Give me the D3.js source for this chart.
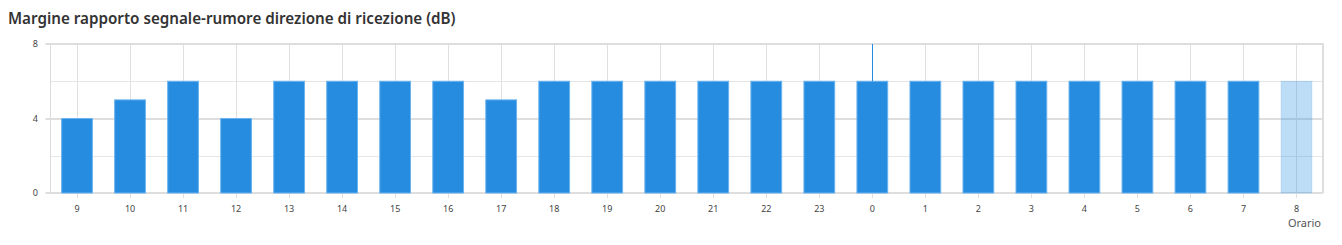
<!DOCTYPE html>
<html>
<head>
<meta charset="utf-8">
<script src="https://cdn.jsdelivr.net/npm/d3@7"></script>
<style>
  body { margin: 0; background: #fff; }
  svg { display: block; }
</style>
</head>
<body>
<svg id="chart" width="1342" height="245"></svg>
<script>
//chart data
var hours = ["9","10","11","12","13","14","15","16","17","18","19","20","21","22","23","0","1","2","3","4","5","6","7","8"];
var margins = [4,5,6,4,6,6,6,6,5,6,6,6,6,6,6,6,6,6,6,6,6,6,6,6];
var lightHours = ["8"];        //last hour is still running, drawn pale
var cursorHour = "0";          //hover cursor line
var yMajor = [0,4,8];
var yMinor = [2,6];

var svg = d3.select("#chart");
//plot box (note: "top" is taken by window.top, so use other names)
var plotL = 50.5, plotR = 1323, plotT = 44, plotB = 193;

var x = d3.scaleBand().domain(hours).range([plotL, plotR]).paddingInner(0.42).paddingOuter(0.21);
var xc = function(h){ return x(h) + x.bandwidth()/2; };
var y = d3.scaleLinear().domain([0,8]).range([plotB, plotT]);

//title
svg.append("text")
   .attr("x", 8).attr("y", 24)
   .style("font-family", "'Noto Sans', sans-serif")
   .style("font-weight", 600)
   .style("font-size", "15.2px")
   .style("fill", "#333")
   .text("Margine rapporto segnale-rumore direzione di ricezione (dB)");

var grid = svg.append("g");

//minor horizontal lines
grid.selectAll(".minor").data(yMinor).enter().append("line")
    .attr("x1", plotL).attr("x2", plotR)
    .attr("y1", function(d){ return Math.round(y(d)) + 0.5; })
    .attr("y2", function(d){ return Math.round(y(d)) + 0.5; })
    .style("stroke", "#e6e6e6");

//vertical lines at each hour, with tick below the axis
grid.selectAll(".vl").data(hours).enter().append("line")
    .attr("x1", function(d){ return Math.round(xc(d)) + 0.5; })
    .attr("x2", function(d){ return Math.round(xc(d)) + 0.5; })
    .attr("y1", plotT).attr("y2", plotB + 5)
    .style("stroke", "#e0e0e0");

//left edge
grid.append("line")
    .attr("x1", plotL).attr("x2", plotL)
    .attr("y1", plotT).attr("y2", plotB)
    .style("stroke", "#dcdcdc");

//major horizontal lines, sticking out a little on the left
grid.selectAll(".major").data(yMajor).enter().append("line")
    .attr("x1", plotL - 5).attr("x2", plotR)
    .attr("y1", function(d){ return Math.round(y(d)); })
    .attr("y2", function(d){ return Math.round(y(d)); })
    .style("stroke", "#dedede")
    .style("stroke-width", 2);

//right edge
grid.append("line")
    .attr("x1", plotR).attr("x2", plotR)
    .attr("y1", plotT - 1).attr("y2", plotB)
    .style("stroke", "#dedede")
    .style("stroke-width", 2);

//bars
svg.append("g").selectAll("rect")
   .data(hours)
   .enter().append("rect")
   .attr("x", function(d){ return x(d); })
   .attr("width", x.bandwidth())
   .attr("y", function(d, i){ return y(margins[i]); })
   .attr("height", function(d, i){ return y(0) - y(margins[i]); })
   .style("fill", function(d){ return lightHours.indexOf(d) >= 0 ? "rgba(38,140,224,0.3)" : "#268ce0"; })
   .style("stroke", function(d){ return lightHours.indexOf(d) >= 0 ? "rgba(120,185,240,0.3)" : "#6ab3ee"; })
   .style("stroke-width", 1);

//cursor line over the hovered hour
var ci = hours.indexOf(cursorHour);
svg.append("line")
   .attr("x1", Math.round(xc(cursorHour)) + 0.5)
   .attr("x2", Math.round(xc(cursorHour)) + 0.5)
   .attr("y1", plotT).attr("y2", y(margins[ci]))
   .style("stroke", "#268ce0");

//y labels
svg.append("g").selectAll("text").data(yMajor).enter().append("text")
   .attr("x", 38).attr("y", function(d){ return y(d) + 3; })
   .attr("text-anchor", "end")
   .style("font-family", "'Noto Sans', sans-serif")
   .style("font-size", "9px")
   .style("fill", "#444")
   .text(function(d){ return d; });

//x labels
svg.append("g").selectAll("text").data(hours).enter().append("text")
   .attr("x", function(d){ return xc(d); })
   .attr("y", 212)
   .attr("text-anchor", "middle")
   .style("font-family", "'Noto Sans', sans-serif")
   .style("font-size", "9px")
   .style("fill", "#444")
   .text(function(d){ return d; });

//axis name, right aligned with the plot edge
svg.append("text")
   .attr("x", plotR - 2).attr("y", 227)
   .attr("text-anchor", "end")
   .style("font-family", "'Noto Sans', sans-serif")
   .style("font-size", "11px")
   .style("fill", "#555")
   .text("Orario");
</script>
</body>
</html>
